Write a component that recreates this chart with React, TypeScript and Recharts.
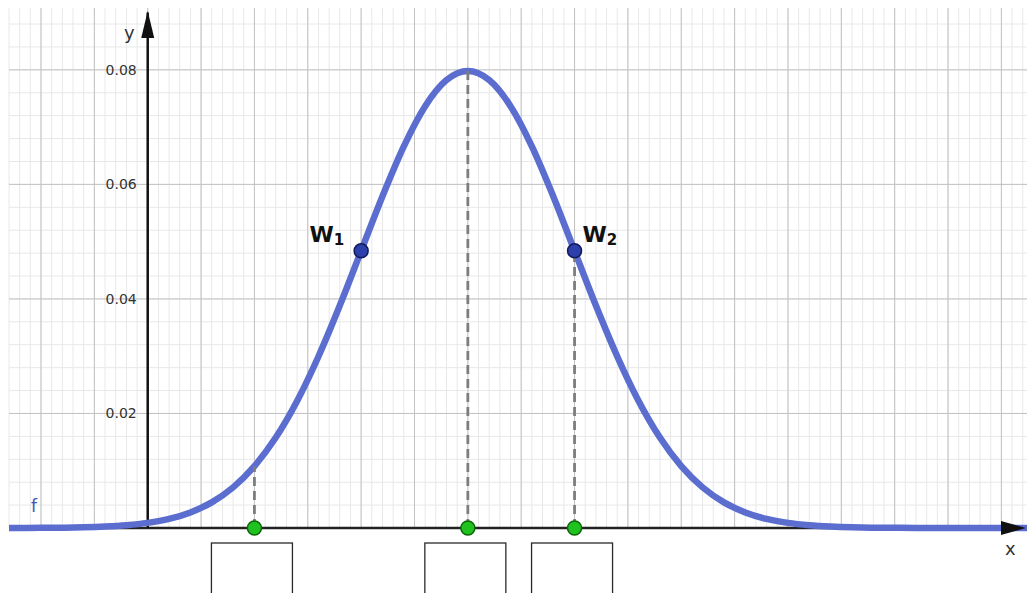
import { LineChart, Line, XAxis, YAxis, ReferenceLine, ReferenceDot } from 'recharts';

// density curve f (x, f(x))
const curveX = [
  -6.5, -6, -5, -4, -3, -2, -1, 0, 1, 2, 3, 4, 5, 6, 7, 8, 9, 10, 11, 12, 13, 14, 15,
  16, 17, 18, 19, 20, 21, 22, 23, 24, 25, 26, 27, 28, 29, 30, 31, 32, 33, 34, 35, 36, 38, 41.2,
];
const curveY = [
  0, 0.00001, 0.00003, 0.00006, 0.00012, 0.00025, 0.00048, 0.00089, 0.00158, 0.00272, 0.00448,
  0.00709, 0.0108, 0.01579, 0.02218, 0.02995, 0.03884, 0.04839, 0.05794, 0.06665, 0.07366,
  0.07821, 0.07979, 0.07821, 0.07366, 0.06665, 0.05794, 0.04839, 0.03884, 0.02995, 0.02218,
  0.01579, 0.0108, 0.00709, 0.00448, 0.00272, 0.00158, 0.00089, 0.00048, 0.00025, 0.00012,
  0.00006, 0.00003, 0.00001, 0, 0,
];

const yTickValues = [0.02, 0.04, 0.06, 0.08];
const yTickLabels = ['0.02', '0.04', '0.06', '0.08'];

// green points on the x axis and the dashed drop lines above them
const baseX = [5, 15, 20];
const dropTop = [0.0108, 0.0798, 0.0484];

// inflection points W1, W2
const inflX = [10, 20];
const inflY = [0.0484, 0.0484];
const inflNames = ['1', '2'];

const majorX = [-5, -2.5, 0, 2.5, 5, 7.5, 10, 12.5, 15, 17.5, 20, 22.5, 25, 27.5, 30, 32.5, 35, 37.5, 40];
const majorY = [0.02, 0.04, 0.06, 0.08];

const minorX: number[] = [];
for (let v = -6.5; v <= 41; v += 0.5) minorX.push(v);
const minorY: number[] = [];
for (let i = 1; i <= 22; i++) minorY.push(+(i * 0.004).toFixed(3));

const data = curveX.map((x, i) => ({ x, y: curveY[i] }));

const FONT = '"DejaVu Sans", sans-serif';

export default function App() {
  return (
    <div style={{ position: 'absolute', left: 0, top: 0, background: '#fff' }}>
      <LineChart width={1027} height={593} data={data} margin={{ top: 8, right: 0, bottom: 65, left: 9 }}>
        <XAxis type="number" dataKey="x" domain={[-6.5, 41.2]} hide />
        <YAxis type="number" domain={[0, 0.0908]} hide />

        {minorX.map((v) => (
          <ReferenceLine key={`mx${v}`} segment={[{ x: v, y: 0 }, { x: v, y: 0.0908 }]} stroke="#e8e8e8" strokeWidth={1} />
        ))}
        {minorY.map((v) => (
          <ReferenceLine key={`my${v}`} y={v} stroke="#e8e8e8" strokeWidth={1} />
        ))}
        {majorX.map((v) => (
          <ReferenceLine key={`Mx${v}`} segment={[{ x: v, y: 0 }, { x: v, y: 0.0908 }]} stroke="#c2c2c2" strokeWidth={1} />
        ))}
        {majorY.map((v) => (
          <ReferenceLine key={`My${v}`} y={v} stroke="#c2c2c2" strokeWidth={1} />
        ))}

        {/* axes */}
        <ReferenceLine y={0} stroke="#222" strokeWidth={2.5} />
        <ReferenceLine segment={[{ x: 0, y: 0 }, { x: 0, y: 0.09 }]} stroke="#111" strokeWidth={2.5} />

        <Line
          type="monotone"
          dataKey="y"
          stroke="#5b6dcf"
          strokeWidth={6.5}
          dot={false}
          isAnimationActive={false}
        />

        {baseX.map((x, i) => (
          <ReferenceLine
            key={`drop${x}`}
            segment={[{ x, y: 0 }, { x, y: dropTop[i] }]}
            stroke="#7d7d7d"
            strokeWidth={2.8}
            strokeDasharray="9 5"
          />
        ))}

        {yTickValues.map((v, i) => (
          <ReferenceDot
            key={`yt${v}`}
            x={0}
            y={v}
            shape={(p: any) => (
              <text x={p.cx - 11} y={p.cy + 5} textAnchor="end" fontFamily={FONT} fontSize={14} fill="#333">
                {yTickLabels[i]}
              </text>
            )}
          />
        ))}

        {/* boxes under the x axis points */}
        {baseX.map((x) => (
          <ReferenceDot
            key={`box${x}`}
            x={x}
            y={0}
            shape={(p: any) => (
              <rect x={p.cx - 43} y={p.cy + 15} width={81} height={60} fill="#fff" stroke="#2a2a2a" strokeWidth={1.3} />
            )}
          />
        ))}

        {baseX.map((x) => (
          <ReferenceDot key={`g${x}`} x={x} y={0} r={7} fill="#1fc21f" stroke="#0c660c" strokeWidth={1.5} />
        ))}

        {inflX.map((x, i) => (
          <ReferenceDot key={`w${x}`} x={x} y={inflY[i]} r={7} fill="#2c3faa" stroke="#121a5a" strokeWidth={1.5} />
        ))}
        {inflX.map((x, i) => (
          <ReferenceDot
            key={`wl${x}`}
            x={x}
            y={inflY[i]}
            shape={(p: any) => (
              <text
                x={i === 0 ? p.cx - 17 : p.cx + 8}
                y={p.cy - 9}
                textAnchor={i === 0 ? 'end' : 'start'}
                fontFamily={FONT}
                fontWeight="bold"
                fill="#111"
              >
                <tspan fontSize={22}>W</tspan>
                <tspan fontSize={15} dy={3}>{inflNames[i]}</tspan>
              </text>
            )}
          />
        ))}

        {/* curve name */}
        <ReferenceDot
          x={-5.47}
          y={0.0028}
          shape={(p: any) => (
            <text x={p.cx} y={p.cy} fontFamily={FONT} fontSize={17} fill="#4555b8">
              f
            </text>
          )}
        />

        {/* arrow heads and axis names */}
        <ReferenceDot
          x={0}
          y={0.0908}
          shape={(p: any) => (
            <g>
              <polygon points={`${p.cx},${p.cy + 3} ${p.cx - 6.5},${p.cy + 30} ${p.cx + 6.5},${p.cy + 30}`} fill="#111" />
              <text x={p.cx - 13} y={p.cy + 31} textAnchor="end" fontFamily={FONT} fontSize={18} fill="#333">
                y
              </text>
            </g>
          )}
        />
        <ReferenceDot
          x={41.2}
          y={0}
          shape={(p: any) => (
            <g>
              <polygon points={`${p.cx - 1},${p.cy} ${p.cx - 26},${p.cy - 7} ${p.cx - 26},${p.cy + 7}`} fill="#111" />
              <text x={p.cx - 22} y={p.cy + 27} fontFamily={FONT} fontSize={18} fill="#333">
                x
              </text>
            </g>
          )}
        />
      </LineChart>
    </div>
  );
}
